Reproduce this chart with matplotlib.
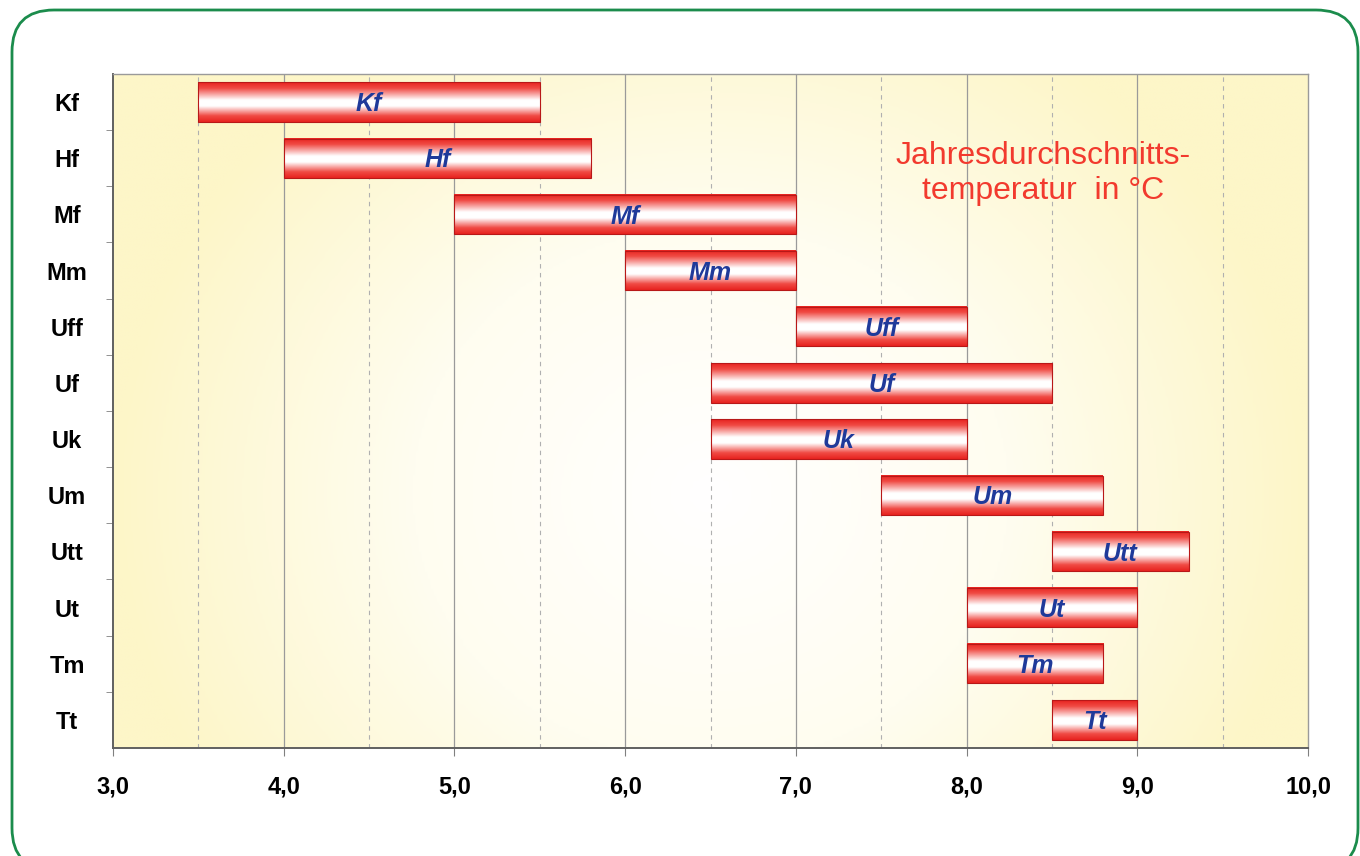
import numpy as np
import matplotlib
matplotlib.use('Agg')
import matplotlib.pyplot as plt
from matplotlib.colors import LinearSegmentedColormap
from matplotlib.patches import FancyBboxPatch

plt.rcParams['font.family'] = ['Liberation Sans', 'DejaVu Sans']

# Waldgesellschaften / Temperaturbereiche
kategorien = ['Kf', 'Hf', 'Mf', 'Mm', 'Uff', 'Uf', 'Uk', 'Um', 'Utt', 'Ut', 'Tm', 'Tt']
von = [3.5, 4.0, 5.0, 6.0, 7.0, 6.5, 6.5, 7.5, 8.5, 8.0, 8.0, 8.5]
bis = [5.5, 5.8, 7.0, 7.0, 8.0, 8.5, 8.0, 8.8, 9.3, 9.0, 8.8, 9.0]
xticks = [3, 4, 5, 6, 7, 8, 9, 10]

fig = plt.figure(figsize=(13.6, 8.56), dpi=100)
ax = fig.add_axes([0.0831, 0.1262, 0.8787, 0.7874])

# gruener Rahmen mit runden Ecken
rahmen = FancyBboxPatch((0.12, -0.14), 13.46, 8.60, boxstyle='round,pad=0,rounding_size=0.42',
                        transform=fig.dpi_scale_trans, fill=False, edgecolor='#1b8c4c',
                        linewidth=2.0, zorder=10)
fig.patches.append(rahmen)

ax.set_xlim(3, 10)
ax.set_ylim(len(kategorien) - 0.5, -0.5)

# Hintergrund: gelber Verlauf
gx, gy = np.meshgrid(np.linspace(-1, 1, 400), np.linspace(-1, 1, 200))
d = np.sqrt(((gx - 0.0) / 1.0) ** 2 + ((gy - 0.25) / 1.6) ** 2)
bg_cmap = LinearSegmentedColormap.from_list('bg', ['#ffffff', '#fffdf0', '#fdf6c8'])
ax.imshow(np.clip(d, 0, 1), cmap=bg_cmap, vmin=0, vmax=1, aspect='auto',
          extent=(3, 10, len(kategorien) - 0.5, -0.5), zorder=0, origin='upper')

# Gitterlinien
for x in np.arange(3.5, 10, 0.5):
    if x == int(x):
        ax.axvline(x, color='#9a9a9a', lw=0.9, zorder=1)
    else:
        ax.axvline(x, color='#b0b0b0', lw=0.8, ls=(0, (4, 4)), zorder=1)

# Balken
ypos = np.arange(len(kategorien))
breite = [b - v for v, b in zip(von, bis)]
bars = ax.barh(ypos, breite, left=von, height=0.7, color='none',
               edgecolor='#b81818', linewidth=0.8, zorder=3)
bar_cmap = LinearSegmentedColormap.from_list(
    'bar', [(0, '#e82420'), (0.15, '#f04a44'), (0.45, '#ffffff'), (0.6, '#ffffff'),
            (0.85, '#f04a44'), (1, '#e82420')])
grad = np.linspace(0, 1, 100).reshape(-1, 1)
for bar, name in zip(bars, kategorien):
    x0, y0 = bar.get_x(), bar.get_y()
    w, h = bar.get_width(), bar.get_height()
    ax.imshow(grad, cmap=bar_cmap, aspect='auto', extent=(x0, x0 + w, y0 + h, y0),
              origin='upper', zorder=2)
    ax.text(x0 + w / 2, y0 + h / 2 + 0.04, name, ha='center', va='center', fontsize=18,
            fontweight='bold', fontstyle='italic', color='#1f3a9a', zorder=4)

ax.set_xlim(3, 10)
ax.set_ylim(len(kategorien) - 0.5, -0.5)

ax.set_yticks(ypos)
ax.set_yticklabels(kategorien, fontsize=17, fontweight='bold')
ax.tick_params(axis='y', length=0, pad=33)
ax.set_yticks(np.arange(0.5, len(kategorien) - 0.5, 1), minor=True)
ax.tick_params(axis='y', which='minor', length=5, color='#808080', direction='out')
for lab in ax.get_yticklabels():
    lab.set_horizontalalignment('center')

ax.set_xticks(xticks)
ax.set_xticklabels([f'{x:.1f}'.replace('.', ',') for x in xticks], fontsize=17, fontweight='bold')
ax.tick_params(axis='x', length=6, color='#808080', pad=14)

for s in ['top', 'right']:
    ax.spines[s].set_color('#9a9a9a')
    ax.spines[s].set_linewidth(1.0)
for s in ['left', 'bottom']:
    ax.spines[s].set_color('#606060')
    ax.spines[s].set_linewidth(1.4)

ax.text(8.45, 1.27, 'Jahresdurchschnitts-\ntemperatur  in °C', ha='center', va='center',
        fontsize=23, color='#f23a2e', linespacing=1.25, zorder=5)

fig.savefig('out.png', dpi=100)
